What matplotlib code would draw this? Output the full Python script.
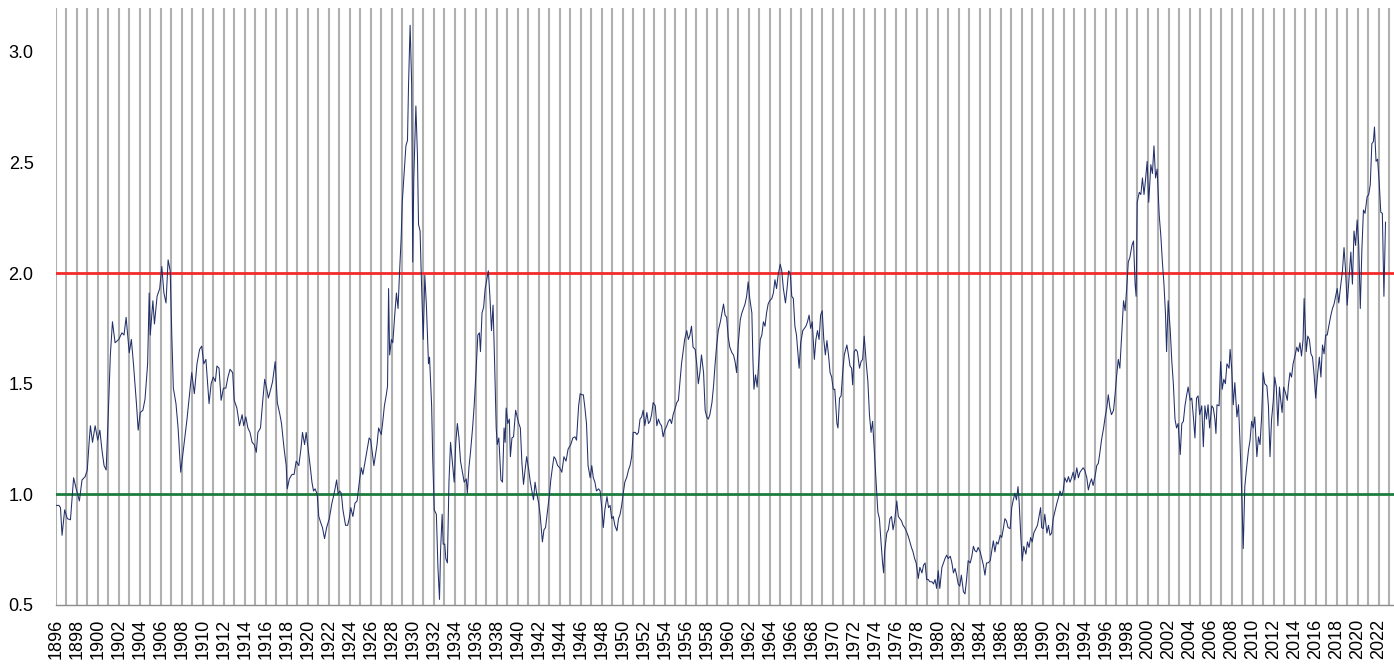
"""Long-run valuation ratio, 1896-2022, with 1.0 and 2.0 reference levels."""

import matplotlib

matplotlib.use("Agg")
import matplotlib.pyplot as plt
from matplotlib.ticker import FormatStrFormatter

# decimal years
DATES = [
    1896.0, 1896.3, 1896.45, 1896.6, 1896.85, 1897.1, 1897.4, 1897.7, 1897.95, 1898.25,
    1898.5, 1898.8, 1899.0, 1899.2, 1899.3, 1899.5, 1899.75, 1900.0, 1900.2, 1900.4,
    1900.6, 1900.8, 1901.0, 1901.2, 1901.4, 1901.65, 1902.0, 1902.3, 1902.5, 1902.7,
    1903.0, 1903.2, 1903.4, 1903.7, 1903.85, 1904.05, 1904.3, 1904.5, 1904.75, 1904.9,
    1905.0, 1905.25, 1905.4, 1905.65, 1905.9, 1906.1, 1906.3, 1906.5, 1906.7, 1906.9,
    1907.05, 1907.2, 1907.45, 1907.65, 1907.9, 1908.15, 1908.5, 1908.7, 1908.95, 1909.2,
    1909.45, 1909.7, 1909.9, 1910.1, 1910.3, 1910.6, 1910.8, 1911.0, 1911.2, 1911.35,
    1911.55, 1911.75, 1911.97, 1912.2, 1912.4, 1912.6, 1912.85, 1913.0, 1913.25, 1913.5,
    1913.75, 1913.9, 1914.1, 1914.3, 1914.5, 1914.7, 1914.9, 1915.1, 1915.25, 1915.5,
    1915.7, 1915.9, 1916.1, 1916.25, 1916.5, 1916.65, 1916.9, 1917.1, 1917.35, 1917.5,
    1917.75, 1917.95, 1918.05, 1918.25, 1918.5, 1918.7, 1918.9, 1919.15, 1919.35, 1919.5,
    1919.7, 1919.85, 1920.1, 1920.25, 1920.4, 1920.55, 1920.7, 1920.9, 1921.05, 1921.25,
    1921.4, 1921.6, 1921.8, 1922.05, 1922.3, 1922.45, 1922.6, 1922.75, 1922.9, 1923.05,
    1923.2, 1923.35, 1923.6, 1923.8, 1923.95, 1924.1, 1924.3, 1924.5, 1924.7, 1924.95,
    1925.1, 1925.25, 1925.5, 1925.65, 1925.85, 1926.0, 1926.3, 1926.6, 1926.75, 1927.0,
    1927.15, 1927.3, 1927.5, 1927.6, 1927.7, 1927.8, 1927.97, 1928.1, 1928.3, 1928.45,
    1928.6, 1928.75, 1928.9, 1929.0, 1929.2, 1929.35, 1929.5, 1929.6, 1929.75, 1929.9,
    1930.0, 1930.1, 1930.3, 1930.45, 1930.55, 1930.7, 1930.8, 1931.0, 1931.15, 1931.3,
    1931.5, 1931.6, 1931.8, 1931.9, 1932.05, 1932.25, 1932.4, 1932.55, 1932.65, 1932.8,
    1932.9, 1933.05, 1933.15, 1933.3, 1933.45, 1933.6, 1933.75, 1933.95, 1934.1, 1934.25,
    1934.4, 1934.55, 1934.7, 1934.9, 1935.1, 1935.2, 1935.35, 1935.5, 1935.7, 1935.85,
    1936.0, 1936.2, 1936.35, 1936.45, 1936.6, 1936.75, 1936.9, 1937.05, 1937.2, 1937.35,
    1937.5, 1937.65, 1937.8, 1937.95, 1938.05, 1938.2, 1938.4, 1938.55, 1938.7, 1938.8,
    1938.9, 1939.05, 1939.2, 1939.3, 1939.45, 1939.6, 1939.8, 1939.95, 1940.1, 1940.25,
    1940.4, 1940.55, 1940.7, 1940.85, 1941.05, 1941.2, 1941.35, 1941.5, 1941.65, 1941.8,
    1942.0, 1942.15, 1942.35, 1942.5, 1942.65, 1942.8, 1943.0, 1943.15, 1943.3, 1943.45,
    1943.6, 1943.8, 1944.0, 1944.2, 1944.4, 1944.6, 1944.8, 1945.05, 1945.25, 1945.45,
    1945.6, 1945.8, 1945.95, 1946.1, 1946.25, 1946.4, 1946.55, 1946.7, 1946.9, 1947.05,
    1947.2, 1947.35, 1947.5, 1947.7, 1947.85, 1948.0, 1948.15, 1948.3, 1948.5, 1948.65,
    1948.8, 1948.95, 1949.1, 1949.25, 1949.45, 1949.6, 1949.75, 1949.9, 1950.05, 1950.2,
    1950.4, 1950.55, 1950.7, 1950.85, 1951.0, 1951.2, 1951.35, 1951.5, 1951.65, 1951.8,
    1951.95, 1952.1, 1952.3, 1952.45, 1952.6, 1952.75, 1952.9, 1953.1, 1953.25, 1953.4,
    1953.55, 1953.7, 1953.85, 1954.0, 1954.2, 1954.35, 1954.5, 1954.65, 1954.8, 1955.0,
    1955.15, 1955.3, 1955.45, 1955.6, 1955.75, 1955.9, 1956.1, 1956.25, 1956.4, 1956.55,
    1956.7, 1956.9, 1957.05, 1957.2, 1957.35, 1957.5, 1957.7, 1957.85, 1958.0, 1958.15,
    1958.3, 1958.5, 1958.65, 1958.8, 1958.95, 1959.1, 1959.3, 1959.45, 1959.6, 1959.75,
    1959.9, 1960.05, 1960.2, 1960.4, 1960.55, 1960.7, 1960.85, 1961.0, 1961.2, 1961.35,
    1961.5, 1961.65, 1961.8, 1961.95, 1962.1, 1962.3, 1962.4, 1962.5, 1962.65, 1962.8,
    1962.95, 1963.1, 1963.25, 1963.4, 1963.55, 1963.7, 1963.85, 1964.0, 1964.2, 1964.35,
    1964.5, 1964.65, 1964.8, 1965.0, 1965.15, 1965.3, 1965.5, 1965.65, 1965.8, 1965.95,
    1966.1, 1966.25, 1966.4, 1966.55, 1966.7, 1966.8, 1966.95, 1967.15, 1967.3, 1967.45,
    1967.6, 1967.75, 1967.9, 1968.05, 1968.25, 1968.4, 1968.55, 1968.7, 1968.85, 1969.0,
    1969.15, 1969.3, 1969.45, 1969.6, 1969.75, 1969.9, 1970.05, 1970.2, 1970.4, 1970.5,
    1970.65, 1970.8, 1970.95, 1971.1, 1971.35, 1971.5, 1971.65, 1971.8, 1971.9, 1972.05,
    1972.2, 1972.35, 1972.55, 1972.7, 1972.85, 1973.0, 1973.2, 1973.35, 1973.5, 1973.65,
    1973.8, 1973.95, 1974.1, 1974.3, 1974.45, 1974.6, 1974.75, 1974.85, 1974.95, 1975.15,
    1975.3, 1975.45, 1975.6, 1975.75, 1975.9, 1976.1, 1976.25, 1976.4, 1976.55, 1976.7,
    1976.85, 1977.0, 1977.2, 1977.35, 1977.5, 1977.65, 1977.8, 1977.95, 1978.15, 1978.3,
    1978.5, 1978.65, 1978.8, 1978.95, 1979.1, 1979.25, 1979.45, 1979.6, 1979.75, 1979.9,
    1980.05, 1980.2, 1980.4, 1980.55, 1980.7, 1980.85, 1981.0, 1981.2, 1981.35, 1981.5,
    1981.65, 1981.8, 1981.95, 1982.1, 1982.25, 1982.45, 1982.6, 1982.75, 1982.9, 1983.1,
    1983.25, 1983.4, 1983.55, 1983.7, 1983.85, 1984.05, 1984.2, 1984.35, 1984.5, 1984.65,
    1984.8, 1985.0, 1985.15, 1985.3, 1985.45, 1985.6, 1985.75, 1985.95, 1986.1, 1986.25,
    1986.4, 1986.55, 1986.7, 1986.9, 1987.05, 1987.2, 1987.35, 1987.5, 1987.65, 1987.75,
    1987.9, 1988.05, 1988.2, 1988.4, 1988.55, 1988.7, 1988.85, 1989.0, 1989.15, 1989.35,
    1989.5, 1989.65, 1989.8, 1989.9, 1990.05, 1990.2, 1990.4, 1990.55, 1990.7, 1990.85,
    1991.0, 1991.15, 1991.35, 1991.5, 1991.65, 1991.8, 1991.95, 1992.1, 1992.3, 1992.45,
    1992.6, 1992.75, 1992.9, 1993.05, 1993.25, 1993.4, 1993.55, 1993.7, 1993.85, 1994.0,
    1994.2, 1994.35, 1994.5, 1994.65, 1994.8, 1995.0, 1995.15, 1995.3, 1995.45, 1995.6,
    1995.8, 1995.95, 1996.1, 1996.25, 1996.4, 1996.55, 1996.75, 1996.9, 1997.05, 1997.2,
    1997.35, 1997.5, 1997.7, 1997.85, 1998.0, 1998.15, 1998.3, 1998.5, 1998.65, 1998.8,
    1998.9, 1999.0, 1999.2, 1999.35, 1999.5, 1999.65, 1999.8, 1999.95, 2000.1, 2000.3,
    2000.45, 2000.6, 2000.75, 2000.9, 2001.1, 2001.25, 2001.4, 2001.55, 2001.7, 2001.8,
    2001.95, 2002.15, 2002.3, 2002.45, 2002.6, 2002.75, 2002.9, 2003.1, 2003.25, 2003.4,
    2003.55, 2003.7, 2003.85, 2004.05, 2004.2, 2004.35, 2004.5, 2004.65, 2004.8, 2004.95,
    2005.15, 2005.3, 2005.45, 2005.6, 2005.75, 2005.9, 2006.1, 2006.25, 2006.4, 2006.5,
    2006.6, 2006.8, 2006.95, 2007.1, 2007.25, 2007.4, 2007.55, 2007.75, 2007.85, 2008.0,
    2008.15, 2008.3, 2008.5, 2008.65, 2008.8, 2008.95, 2009.1, 2009.25, 2009.4, 2009.6,
    2009.75, 2009.9, 2010.05, 2010.2, 2010.4, 2010.55, 2010.7, 2010.85, 2011.0, 2011.15,
    2011.35, 2011.5, 2011.65, 2011.8, 2011.95, 2012.1, 2012.25, 2012.4, 2012.55, 2012.65,
    2012.8, 2012.95, 2013.15, 2013.3, 2013.4, 2013.55, 2013.7, 2013.85, 2014.0, 2014.2,
    2014.35, 2014.5, 2014.65, 2014.8, 2014.9, 2015.1, 2015.25, 2015.4, 2015.55, 2015.7,
    2015.85, 2016.0, 2016.2, 2016.35, 2016.5, 2016.65, 2016.8, 2016.95, 2017.1, 2017.25,
    2017.45, 2017.6, 2017.75, 2017.9, 2018.05, 2018.2, 2018.35, 2018.55, 2018.7, 2018.85,
    2019.0, 2019.2, 2019.35, 2019.5, 2019.65, 2019.8, 2019.95, 2020.1, 2020.25, 2020.4,
    2020.55, 2020.7, 2020.9, 2021.05, 2021.2, 2021.35, 2021.5, 2021.6, 2021.75, 2021.9,
    2022.05, 2022.2, 2022.35, 2022.5, 2022.65,
]

RATIO = [
    0.95, 0.95, 0.94, 0.815, 0.93, 0.89, 0.885, 1.075, 1.025, 0.97,
    1.065, 1.08, 1.11, 1.25, 1.31, 1.235, 1.31, 1.245, 1.29, 1.2,
    1.13, 1.11, 1.36, 1.63, 1.78, 1.685, 1.70, 1.73, 1.72, 1.80,
    1.64, 1.70, 1.59, 1.40, 1.29, 1.37, 1.38, 1.43, 1.59, 1.91,
    1.72, 1.875, 1.77, 1.895, 1.93, 2.03, 1.91, 1.865, 2.06, 2.01,
    1.72, 1.48, 1.41, 1.30, 1.10, 1.20, 1.34, 1.435, 1.55, 1.455,
    1.59, 1.655, 1.67, 1.59, 1.61, 1.41, 1.50, 1.53, 1.51, 1.58,
    1.57, 1.425, 1.48, 1.48, 1.53, 1.565, 1.55, 1.425, 1.39, 1.31,
    1.36, 1.31, 1.35, 1.30, 1.28, 1.235, 1.225, 1.19, 1.28, 1.30,
    1.415, 1.52, 1.475, 1.435, 1.48, 1.51, 1.60, 1.415, 1.36, 1.32,
    1.205, 1.13, 1.025, 1.07, 1.09, 1.09, 1.15, 1.13, 1.205, 1.28,
    1.225, 1.28, 1.18, 1.12, 1.055, 1.015, 1.025, 1.0, 0.90, 0.87,
    0.85, 0.80, 0.85, 0.89, 0.96, 0.99, 1.025, 1.065, 1.0, 1.015,
    1.005, 0.93, 0.86, 0.86, 0.89, 0.94, 0.90, 0.96, 0.97, 1.07,
    1.12, 1.09, 1.16, 1.205, 1.255, 1.245, 1.13, 1.225, 1.30, 1.27,
    1.33, 1.40, 1.455, 1.49, 1.93, 1.63, 1.70, 1.685, 1.82, 1.91,
    1.84, 2.01, 2.16, 2.32, 2.47, 2.575, 2.60, 2.85, 3.12, 2.85,
    2.05, 2.43, 2.755, 2.53, 2.22, 2.19, 2.01, 1.70, 1.99, 1.855,
    1.59, 1.62, 1.40, 1.17, 0.93, 0.91, 0.67, 0.525, 0.745, 0.91,
    0.775, 0.775, 0.71, 0.69, 1.055, 1.235, 1.16, 1.055, 1.235, 1.32,
    1.255, 1.15, 1.11, 1.055, 1.07, 1.005, 1.12, 1.19, 1.30, 1.40,
    1.53, 1.72, 1.73, 1.645, 1.82, 1.845, 1.93, 1.97, 2.01, 1.895,
    1.74, 1.855, 1.59, 1.30, 1.225, 1.255, 1.065, 1.055, 1.30, 1.235,
    1.39, 1.32, 1.34, 1.17, 1.255, 1.26, 1.38, 1.35, 1.32, 1.30,
    1.14, 1.045, 1.11, 1.17, 1.11, 1.055, 1.015, 0.975, 1.055, 1.005,
    0.96, 0.90, 0.785, 0.84, 0.85, 0.91, 0.99, 1.065, 1.12, 1.17,
    1.16, 1.13, 1.12, 1.10, 1.17, 1.15, 1.205, 1.225, 1.255, 1.26,
    1.245, 1.40, 1.455, 1.45, 1.45, 1.39, 1.32, 1.13, 1.075, 1.13,
    1.075, 1.055, 1.015, 1.025, 1.015, 0.94, 0.85, 0.93, 0.99, 0.94,
    0.95, 0.89, 0.90, 0.86, 0.835, 0.89, 0.91, 0.95, 1.005, 1.055,
    1.08, 1.11, 1.13, 1.17, 1.28, 1.28, 1.27, 1.28, 1.34, 1.35,
    1.38, 1.31, 1.37, 1.32, 1.33, 1.36, 1.415, 1.40, 1.31, 1.34,
    1.32, 1.31, 1.26, 1.29, 1.31, 1.33, 1.34, 1.32, 1.36, 1.39,
    1.415, 1.425, 1.51, 1.59, 1.645, 1.70, 1.74, 1.70, 1.72, 1.76,
    1.665, 1.655, 1.59, 1.50, 1.55, 1.63, 1.55, 1.38, 1.35, 1.34,
    1.36, 1.415, 1.49, 1.59, 1.675, 1.74, 1.78, 1.82, 1.86, 1.81,
    1.80, 1.71, 1.665, 1.64, 1.63, 1.60, 1.55, 1.68, 1.79, 1.82,
    1.84, 1.86, 1.895, 1.96, 1.885, 1.82, 1.61, 1.475, 1.54, 1.485,
    1.59, 1.70, 1.72, 1.78, 1.76, 1.82, 1.86, 1.875, 1.885, 1.91,
    1.97, 1.93, 1.99, 2.04, 2.01, 1.93, 1.865, 1.93, 2.01, 2.0,
    1.895, 1.885, 1.76, 1.72, 1.63, 1.57, 1.685, 1.74, 1.75, 1.76,
    1.78, 1.81, 1.75, 1.78, 1.61, 1.70, 1.74, 1.70, 1.81, 1.83,
    1.70, 1.63, 1.695, 1.63, 1.55, 1.53, 1.475, 1.475, 1.32, 1.30,
    1.435, 1.445, 1.55, 1.63, 1.675, 1.63, 1.58, 1.57, 1.495, 1.645,
    1.655, 1.645, 1.57, 1.60, 1.61, 1.715, 1.59, 1.51, 1.36, 1.28,
    1.33, 1.205, 1.08, 0.92, 0.89, 0.785, 0.69, 0.645, 0.745, 0.825,
    0.84, 0.89, 0.90, 0.84, 0.88, 0.97, 0.90, 0.89, 0.88, 0.86,
    0.85, 0.835, 0.81, 0.785, 0.76, 0.74, 0.71, 0.69, 0.62, 0.67,
    0.645, 0.68, 0.69, 0.615, 0.615, 0.605, 0.605, 0.595, 0.615, 0.575,
    0.655, 0.575, 0.67, 0.69, 0.71, 0.725, 0.71, 0.72, 0.69, 0.645,
    0.665, 0.635, 0.595, 0.585, 0.635, 0.56, 0.55, 0.615, 0.70, 0.69,
    0.72, 0.765, 0.745, 0.74, 0.76, 0.74, 0.71, 0.68, 0.635, 0.69,
    0.69, 0.70, 0.745, 0.79, 0.74, 0.785, 0.775, 0.815, 0.805, 0.845,
    0.89, 0.88, 0.85, 0.845, 0.94, 0.975, 1.005, 0.975, 1.035, 0.97,
    0.825, 0.70, 0.765, 0.73, 0.785, 0.76, 0.805, 0.785, 0.825, 0.845,
    0.86, 0.90, 0.94, 0.85, 0.845, 0.91, 0.825, 0.86, 0.815, 0.825,
    0.89, 0.92, 0.96, 0.985, 1.015, 0.995, 1.015, 1.075, 1.055, 1.08,
    1.055, 1.075, 1.10, 1.065, 1.12, 1.075, 1.10, 1.11, 1.12, 1.11,
    1.075, 1.02, 1.05, 1.07, 1.04, 1.085, 1.13, 1.14, 1.19, 1.245,
    1.30, 1.35, 1.39, 1.45, 1.39, 1.36, 1.38, 1.455, 1.54, 1.61,
    1.57, 1.70, 1.875, 1.83, 1.93, 2.05, 2.07, 2.125, 2.145, 1.95,
    1.895, 2.32, 2.365, 2.355, 2.43, 2.355, 2.425, 2.505, 2.32, 2.49,
    2.45, 2.575, 2.43, 2.47, 2.26, 2.17, 2.05, 1.95, 1.81, 1.645,
    1.875, 1.74, 1.60, 1.495, 1.34, 1.30, 1.32, 1.18, 1.32, 1.33,
    1.40, 1.445, 1.485, 1.425, 1.435, 1.35, 1.255, 1.435, 1.445, 1.36,
    1.40, 1.215, 1.40, 1.34, 1.405, 1.30, 1.40, 1.39, 1.34, 1.275,
    1.405, 1.40, 1.60, 1.475, 1.52, 1.50, 1.59, 1.57, 1.655, 1.57,
    1.405, 1.505, 1.35, 1.405, 1.225, 1.015, 0.755, 1.035, 1.11, 1.20,
    1.245, 1.33, 1.30, 1.35, 1.17, 1.26, 1.225, 1.35, 1.55, 1.50,
    1.49, 1.40, 1.17, 1.34, 1.415, 1.53, 1.485, 1.31, 1.485, 1.435,
    1.37, 1.485, 1.455, 1.425, 1.49, 1.55, 1.53, 1.59, 1.62, 1.665,
    1.645, 1.685, 1.625, 1.70, 1.885, 1.645, 1.715, 1.70, 1.635, 1.62,
    1.54, 1.435, 1.55, 1.62, 1.53, 1.675, 1.635, 1.72, 1.72, 1.76,
    1.81, 1.84, 1.86, 1.895, 1.93, 1.865, 1.93, 2.01, 2.115, 2.01,
    1.855, 1.99, 2.095, 1.95, 2.19, 2.125, 2.24, 2.125, 1.84, 2.105,
    2.285, 2.27, 2.345, 2.355, 2.40, 2.585, 2.595, 2.66, 2.505, 2.515,
    2.41, 2.275, 2.27, 1.895, 2.23,
]

UPPER_LEVEL = 2.0
LOWER_LEVEL = 1.0
Y_TICKS = [0.5, 1.0, 1.5, 2.0, 2.5, 3.0]
TICK_YEARS = list(range(1896, 2023, 2))
GRID_YEARS = list(range(1896, 2024))


def main() -> None:
    assert len(DATES) == len(RATIO), (len(DATES), len(RATIO))
    plt.rcParams["font.family"] = ["Liberation Sans", "DejaVu Sans"]

    fig = plt.figure(figsize=(13.94, 6.64), dpi=100)
    ax = fig.add_axes([0.04, 0.0889, 0.96, 0.8997])

    # one gray line per year
    for year in GRID_YEARS:
        ax.axvline(year, color="#b0b0b0", linewidth=1.5, zorder=1)

    ax.axhline(UPPER_LEVEL, color="#f42a2a", linewidth=2.0, zorder=2)
    ax.axhline(LOWER_LEVEL, color="#1c7d3c", linewidth=2.0, zorder=2)
    ax.plot(DATES, RATIO, color="#22306a", linewidth=0.75, zorder=3)

    ax.set_xlim(1896, 2023.46)
    ax.set_ylim(0.5, 3.2)
    ax.set_yticks(Y_TICKS)
    ax.yaxis.set_major_formatter(FormatStrFormatter("%.1f"))
    ax.set_xticks(TICK_YEARS)
    ax.set_xticklabels([str(y) for y in TICK_YEARS], rotation=90)

    ax.tick_params(axis="y", length=0, labelsize=13, pad=16)
    ax.tick_params(axis="x", length=0, labelsize=13, pad=10)
    for side in ["top", "right", "left"]:
        ax.spines[side].set_visible(False)
    ax.spines["bottom"].set_color("#8c8c8c")
    ax.spines["bottom"].set_linewidth(1.0)

    fig.savefig("out.png", dpi=100)
    plt.close(fig)


if __name__ == "__main__":
    main()
